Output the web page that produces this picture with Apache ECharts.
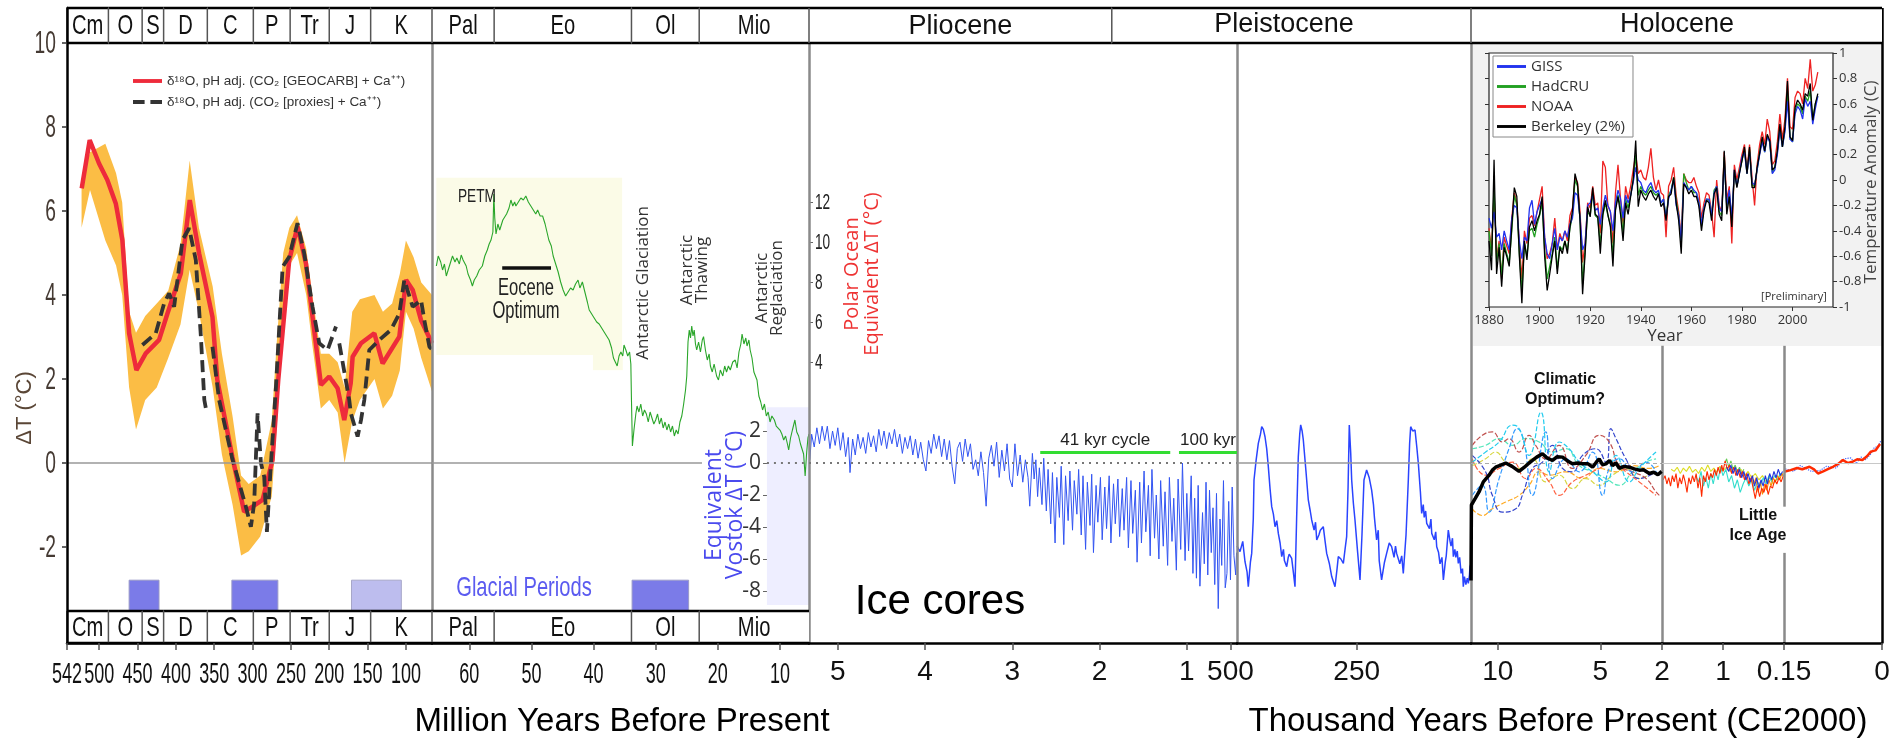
<!DOCTYPE html>
<html>
<head>
<meta charset="utf-8">
<title>Temperature of Planet Earth</title>
<script src="https://cdn.jsdelivr.net/npm/echarts@6/dist/echarts.min.js"></script>
<style>
html, body { margin: 0; padding: 0; background: #fff; }
#chart { width: 1901px; height: 744px; }
</style>
</head>
<body>
<div id="chart"></div>
<script>
// ================= data =================

// Phanerozoic: [million years before present, ΔT °C]
const geocarb = [[522.8,6.54],[512.4,7.69],[500.2,7.13],[489.4,6.74],[478.4,6.18],[469.8,5.31],[461,3.09],[451.5,2.21],[439.3,2.61],[421.9,2.93],[411,3.56],[393.6,4.51],[381.9,6.26],[369.7,4.99],[352.3,3.48],[346,1.98],[326.4,0.15],[311,-1.16],[300.1,-1.04],[287,-0.88],[274,0.07],[266.5,1.98],[252.2,4.83],[241.4,5.63],[230.4,4.75],[221.8,3.48],[210.8,1.86],[200,2.06],[189.1,1.78],[180.4,1.02],[172,1.9],[169.5,2.53],[158.6,2.85],[141.2,3.09],[130.4,2.37],[108.6,3.01],[99.8,4.36],[91.2,4.12],[80.3,3.40],[66,2.85]];
const proxies = [[443.7,2.81],[426.2,3.09],[415.4,3.80],[408.8,4.04],[402.3,3.72],[391.4,5.31],[382.7,5.59],[374,4.83],[367.4,3.01],[362.9,1.5],[360.9,1.3],[357,null],[352.3,2.77],[343.6,1.5],[326.4,0.1],[308.7,-1.04],[302.2,-1.52],[297.9,-0.96],[293.5,1.18],[289.1,0],[284.8,-0.33],[281.3,-1.64],[276,0],[269.5,1.82],[260.8,4.67],[252.2,4.91],[241.4,5.71],[232.6,4.99],[221.8,3.72],[213,2.85],[202.2,2.69],[191.2,3.25],[189,null],[186.9,2.85],[173.9,1.5],[171.8,1.18],[163,0.63],[158.6,1.02],[154.3,1.5],[147.8,2.69],[134.7,2.93],[119.5,3.17],[108.6,3.56],[102.1,4.36],[91.2,3.72],[80.3,3.88],[76,3.40],[69.4,2.77],[66,2.7]];
const spreadUpper = [[523,6.7],[512,7.4],[492,7.6],[478,6.9],[470,6.2],[461,3.6],[452,3.1],[440,3.5],[425,3.8],[410,4.1],[394,5.2],[382,7.2],[370,5.6],[352,4.2],[340,2.6],[326,1.1],[315,-0.3],[305,-0.5],[290,-0.3],[275,1.0],[268,3.0],[260,5.0],[252,5.6],[242,5.9],[230,5.1],[222,4.0],[211,2.6],[200,2.6],[189,2.4],[180,1.8],[170,3.6],[160,3.9],[141,4.0],[130,3.6],[118,3.8],[108,4.5],[100,5.3],[90,4.9],[80,4.3],[66,4.0]];
const spreadLower = [[523,5.6],[512,6.5],[492,5.3],[478,4.7],[470,4.0],[461,1.8],[452,0.8],[440,1.5],[425,1.8],[410,2.5],[394,3.3],[382,4.6],[370,3.6],[352,1.8],[340,0.2],[326,-1.0],[315,-2.2],[305,-2.1],[290,-1.75],[275,-0.8],[268,1.0],[260,3.6],[252,4.7],[242,5.0],[230,4.0],[222,2.8],[211,1.3],[200,1.5],[189,1.2],[180,0.0],[170,1.0],[160,1.5],[141,2.0],[130,1.3],[118,1.6],[108,2.2],[100,3.6],[90,3.2],[80,2.5],[66,1.7]];
const glacialPhanerozoic = [[461,422],[327,267]];
const coolPhanerozoic = [[171,106]];
const glacialCenozoic = [[33.8,24.7]];

// Cenozoic deep-sea record: [Myr, polar ocean equivalent ΔT °C]
const polarOcean = [[65.3,8.8],[65.0,9.3],[64.6,9.0],[64.3,8.6],[64.0,8.9],[63.7,8.3],[63.3,8.7],[63.0,9.0],[62.7,9.3],[62.3,9.0],[62.0,9.2],[61.6,8.9],[61.3,9.35],[61.0,9.1],[60.5,8.8],[60.2,8.4],[59.8,8.1],[59.5,7.8],[59.2,8.1],[58.8,8.3],[58.4,8.6],[57.9,8.8],[57.5,9.3],[57.1,9.6],[56.8,9.9],[56.5,10.1],[56.2,10.5],[56.05,12.4],[55.9,11.2],[55.7,10.4],[55.4,10.9],[55.1,10.6],[54.9,10.8],[54.6,11.1],[54.3,11.0],[54.0,11.4],[53.6,11.7],[53.3,12.1],[53.0,11.8],[52.7,12.0],[52.5,11.8],[52.1,12.0],[51.7,12.2],[51.3,12.1],[50.9,12.3],[50.5,12.0],[50.1,11.8],[49.7,11.6],[49.3,11.4],[49.0,11.6],[48.6,11.3],[48.2,11.3],[47.8,10.9],[47.5,10.5],[47.2,10.1],[46.8,9.8],[46.5,9.3],[46.1,8.9],[45.7,8.5],[45.3,8.0],[44.9,7.6],[44.5,7.3],[44.1,7.5],[43.7,7.7],[43.3,7.6],[42.9,7.9],[42.5,8.1],[42.2,7.7],[41.8,8.0],[41.4,7.5],[41.0,7.0],[40.7,6.6],[40.3,6.4],[39.9,6.2],[39.5,6.0],[39.1,5.9],[38.7,5.7],[38.3,5.5],[37.9,5.3],[37.5,5.1],[37.1,4.7],[36.8,4.2],[36.5,4.0],[36.2,3.8],[35.9,4.3],[35.6,4.5],[35.3,4.3],[35.1,4.85],[34.8,4.6],[34.5,4.3],[34.2,4.5],[34.0,3.9],[33.9,2.1],[33.75,-0.2],[33.5,0.6],[33.2,1.4],[33.0,1.8],[32.7,1.5],[32.4,1.9],[32.1,1.3],[31.8,1.6],[31.5,1.4],[31.2,1.0],[30.9,1.5],[30.6,1.2],[30.3,0.9],[30.0,1.1],[29.7,1.4],[29.4,0.9],[29.1,1.2],[28.8,0.7],[28.5,1.0],[28.2,0.6],[27.9,0.9],[27.6,0.5],[27.3,0.8],[27.0,0.3],[26.7,0.6],[26.4,0.4],[26.1,1.0],[25.8,1.3],[25.5,1.9],[25.2,2.6],[25.0,3.3],[24.8,5.0],[24.6,5.6],[24.4,5.2],[24.2,5.8],[24.0,5.3],[23.8,5.6],[23.6,4.9],[23.4,4.6],[23.1,5.0],[22.8,4.5],[22.5,5.1],[22.3,5.27],[22.0,4.6],[21.7,4.1],[21.4,4.4],[21.2,3.8],[20.9,3.5],[20.6,3.9],[20.2,3.3],[19.9,3.1],[19.6,3.6],[19.2,3.3],[18.9,3.8],[18.6,3.5],[18.3,3.8],[18.0,3.6],[17.6,4.0],[17.2,4.1],[16.9,3.7],[16.6,4.5],[16.3,4.9],[16.1,5.4],[15.8,4.9],[15.5,5.2],[15.3,4.8],[15.0,5.1],[14.8,4.6],[14.5,4.2],[14.2,3.5],[14.0,3.4],[13.7,3.1],[13.4,2.3],[13.1,2.0],[12.8,1.6],[12.5,1.9],[12.2,1.3],[11.9,1.5],[11.6,1.0],[11.3,1.3],[10.9,1.1],[10.6,0.8],[10.3,0.9],[10.0,0.6],[9.7,0.4],[9.4,0.1],[9.1,0.3],[8.8,-0.1],[8.6,-0.4],[8.3,0.2],[8.0,0.6],[7.6,1.1],[7.3,0.5],[7.0,0.3],[6.7,-0.1],[6.5,-0.2],[6.2,-0.6],[5.95,-1.7],[5.7,-0.5],[5.5,0.2],[5.33,0.4]];
const eoceneOptimum = [54.7, 46.85];

// Pliocene–Pleistocene stack: [Myr, equivalent Vostok ΔT °C]
const vostokLong = [[5.32,0.2],[5.30,1.8],[5.27,1.0],[5.24,2.2],[5.21,1.2],[5.18,2.3],[5.15,1.4],[5.12,2.3],[5.09,0.9],[5.06,2.0],[5.03,1.1],[5.00,2.2],[4.97,0.8],[4.94,1.9],[4.91,0.4],[4.88,1.6],[4.86,-0.6],[4.83,1.5],[4.80,0.5],[4.77,1.8],[4.74,0.9],[4.71,1.6],[4.68,0.6],[4.65,1.9],[4.62,1.0],[4.59,1.7],[4.56,0.7],[4.53,2.1],[4.50,1.1],[4.47,2.0],[4.44,0.9],[4.41,1.9],[4.38,1.2],[4.35,2.1],[4.32,1.0],[4.29,1.8],[4.26,0.6],[4.23,1.6],[4.20,0.9],[4.17,1.7],[4.14,0.5],[4.11,1.5],[4.08,0.3],[4.05,1.3],[4.02,0.2],[3.99,-0.5],[3.96,1.4],[3.93,0.6],[3.90,1.8],[3.87,0.9],[3.84,1.7],[3.81,0.4],[3.78,1.5],[3.75,0.2],[3.72,1.4],[3.69,-0.2],[3.66,-1.3],[3.63,0.9],[3.60,1.3],[3.57,0.1],[3.54,1.5],[3.51,0.4],[3.48,1.2],[3.45,-0.4],[3.42,0.2],[3.39,-0.8],[3.36,0.7],[3.33,-0.6],[3.30,-2.7],[3.27,0.3],[3.24,1.1],[3.21,-0.2],[3.18,1.3],[3.15,-0.9],[3.12,0.8],[3.09,-0.5],[3.06,1.2],[3.03,-1.0],[3.00,-1.5],[2.97,1.2],[2.94,-0.8],[2.91,0.5],[2.88,-1.2],[2.85,0.2],[2.82,-0.9],[2.80,-2.7],[2.77,0.6],[2.75,-1.0],[2.73,0.2],[2.71,-2.1],[2.69,-0.3],[2.66,-2.6],[2.64,0.3],[2.61,-3.0],[2.59,-0.4],[2.56,-3.8],[2.54,-0.6],[2.51,-5.0],[2.49,-0.9],[2.46,-3.4],[2.44,-0.2],[2.41,-5.1],[2.39,-0.8],[2.36,-3.6],[2.34,-0.5],[2.31,-4.2],[2.29,-1.1],[2.26,-3.2],[2.24,-0.4],[2.21,-4.5],[2.19,-0.8],[2.16,-5.4],[2.14,-1.2],[2.11,-3.9],[2.09,-0.7],[2.07,-5.6],[2.04,-1.4],[2.02,-3.7],[1.99,-0.9],[1.97,-4.8],[1.94,-1.5],[1.92,-4.1],[1.89,-0.8],[1.87,-5.0],[1.84,-1.3],[1.82,-3.8],[1.79,-1.0],[1.77,-4.6],[1.74,-1.6],[1.72,-4.2],[1.69,-0.9],[1.67,-5.3],[1.64,-1.1],[1.62,-4.4],[1.59,-1.7],[1.57,-6.2],[1.54,-1.2],[1.52,-5.0],[1.49,-0.5],[1.47,-4.3],[1.44,-1.4],[1.42,-5.8],[1.40,-0.4],[1.37,-4.7],[1.35,-2.0],[1.32,-6.0],[1.30,-1.1],[1.27,-5.2],[1.25,-1.8],[1.22,-6.4],[1.20,-0.9],[1.17,-4.9],[1.15,-2.2],[1.12,-6.7],[1.10,-1.0],[1.07,-5.4],[1.05,0.0],[1.02,-6.1],[1.00,-1.9],[0.98,-5.5],[0.95,-0.8],[0.93,-6.9],[0.91,-2.2],[0.89,-7.2],[0.87,-1.4],[0.85,-7.7],[0.82,-3.1],[0.80,-6.3],[0.78,-1.2],[0.76,-7.0],[0.74,-1.7],[0.72,-5.6],[0.70,-2.8],[0.68,-7.6],[0.66,-1.9],[0.64,-9.1],[0.62,-3.5],[0.60,-6.4],[0.58,-1.1],[0.56,-7.8],[0.54,-6.9],[0.52,-2.4],[0.50,-7.3],[0.48,-1.5],[0.46,-5.8],[0.44,-7.0],[0.43,-5.6]];
const cycleEras = [[2.68,1.19,'41 kyr cycle'],[1.09,0.425,'100 kyr']];

// Ice cores: [thousand years before present, Vostok ΔT °C]
const vostokCore = [[500,-5.2],[493.7,-5.54],[488,-4.9],[483.3,-6.17],[479,-6.8],[476.4,-7.73],[472,-6.2],[469.3,-5.65],[466,-3.5],[464.5,-1.06],[460,0.2],[455.5,1.23],[451,1.8],[448.4,2.27],[445,2.1],[441.5,1.64],[438,0.9],[434.6,-0.23],[431,-1.6],[427.5,-2.73],[424,-3.2],[420.6,-3.98],[417,-3.6],[413.7,-4.4],[410,-5.0],[406.6,-5.85],[403,-5.4],[401,-6.1],[396.2,-6.48],[393,-5.9],[391,-5.7],[385.8,-5.96],[382,-6.9],[378.9,-7.73],[375.5,-3.5],[372,0.4],[369,1.8],[367,2.38],[364,2.0],[361.5,1.44],[356,-0.5],[351.1,-2.31],[347,-3.0],[344,-3.56],[339,-4.2],[336,-3.7],[333.5,-4.81],[329,-4.5],[326,-4.2],[319.8,-3.98],[316,-4.9],[312.7,-5.65],[307,-6.3],[302.2,-7.1],[295.3,-7.73],[291,-6.6],[288.4,-5.85],[283,-6.0],[277.9,-6.27],[274,-5.3],[271,-4.6],[268,-1.5],[265.5,2.38],[262.5,0.6],[260.5,-1.06],[257,-2.5],[253.6,-3.56],[248,-5.6],[243.1,-7.31],[239,-4.5],[234.8,-1.06],[229.3,-0.44],[224,-0.9],[218.8,-1.69],[215,-2.6],[213,-3.4],[208.4,-4.81],[205,-4.2],[203,-6.1],[198,-7.31],[192,-6.2],[187.5,-5.65],[182,-5.0],[177.1,-5.23],[172,-5.9],[169,-5.2],[166.6,-5.65],[160,-6.3],[156,-5.8],[152.7,-6.9],[147,-4.5],[142.2,-1.06],[139.5,1.2],[137.3,2.27],[133,2.0],[128.2,2.06],[124.5,1.0],[121.3,-0.02],[117,-1.8],[114.3,-3.15],[111,-2.6],[109,-3.4],[106,-3.0],[103.8,-3.77],[98,-4.1],[95,-3.5],[93.3,-4.4],[88,-4.8],[85,-4.3],[82.9,-5.23],[79,-5.6],[76,-6.3],[72,-5.9],[69,-7.31],[65,-6.2],[63,-5.8],[58.7,-4.19],[55,-4.9],[53,-5.2],[50,-4.7],[48.2,-5.85],[45,-5.4],[43,-5.9],[40,-5.5],[37.8,-6.27],[35,-5.9],[32,-6.9],[29,-6.6],[27.4,-7.73],[25,-7.1],[22,-7.6],[19,-7.2],[16.9,-7.52],[14.5,-7.0],[13.4,-6.48],[11.3,-6.3]];

// Holocene: [thousand years before present, ΔT °C]
const holoceneMean = [[11.3,-2.8],[11.28,-1.0],[11.1,-0.85],[10.91,-0.69],[10.7,-0.45],[10.42,-0.29],[10.26,-0.17],[10.10,-0.1],[9.85,-0.05],[9.61,0.0],[9.3,-0.08],[8.96,-0.2],[8.7,-0.1],[8.47,0.0],[8.31,0.06],[8.1,0.14],[7.82,0.22],[7.6,0.12],[7.33,0.06],[7.1,0.15],[6.84,0.14],[6.6,0.05],[6.36,-0.02],[6.1,0.0],[5.87,-0.02],[5.6,-0.02],[5.38,-0.1],[5.2,0.02],[5.06,0.1],[4.9,-0.04],[4.73,-0.02],[4.55,0.06],[4.41,-0.06],[4.24,0.0],[4.08,-0.13],[3.85,-0.08],[3.59,-0.1],[3.35,-0.14],[3.11,-0.17],[2.9,-0.16],[2.62,-0.25],[2.4,-0.22],[2.2,-0.28],[2.02,-0.2]];
const holoceneProxyA = [[11.24,0.42],[10.75,0.66],[10.26,0.74],[9.77,0.5],[9.45,0.58],[8.96,0.26],[8.47,0.66],[8.15,0.42],[7.66,0.1],[7.01,0.42],[6.36,-0.13],[5.71,0.18],[5.06,0.66],[4.57,0.5],[4.08,-0.06],[3.43,-0.21],[2.78,-0.37],[2.29,-0.69],[2.13,-0.77]];
const holoceneProxyB = [[11.24,0.02],[10.59,0.26],[9.93,0.5],[9.28,0.9],[8.96,0.82],[8.47,0.18],[7.90,1.21],[7.49,-0.21],[7.01,0.5],[6.52,0.34],[6.03,0.02],[5.38,-0.21],[4.73,-0.45],[4.24,0.18],[3.59,-0.45],[3.11,-0.13],[2.29,0.26]];
const holoceneProxyC = [[11.24,-0.77],[10.75,-0.53],[10.42,-1.17],[9.93,-0.37],[9.45,0.34],[9.04,0.82],[8.72,0.5],[8.31,-0.77],[7.66,0.74],[7.33,-0.37],[6.68,0.1],[6.03,-0.21],[5.38,0.26],[4.89,-0.77],[4.57,-0.13],[4.08,0.1],[3.43,-0.21],[2.78,0.02],[2.21,-0.29]];
const holoceneProxyD = [[11.24,0.18],[10.59,-0.21],[10.26,-0.77],[9.77,-1.17],[9.12,-1.09],[8.80,-0.77],[8.31,-0.13],[7.82,0.02],[7.33,0.42],[6.84,-0.13],[6.36,-0.21],[5.87,0.18],[5.22,0.34],[4.73,0.02],[4.49,0.82],[4.24,0.58],[3.76,0.1],[3.11,-0.37],[2.29,-0.21]];
const holoceneProxyE = [[11.24,-1.09],[10.75,-1.25],[10.26,-1.09],[9.61,-0.93],[8.96,-0.77],[8.47,-0.53],[7.98,-0.21],[7.49,-0.29],[6.68,-0.21],[5.87,-0.37],[5.06,-0.13],[4.24,-0.21],[3.43,-0.06],[2.62,-0.13],[2.13,-0.06]];
const holoceneProxyF = [[11.24,-0.06],[10.59,0.1],[10.10,0.26],[9.61,0.02],[8.96,-0.13],[8.31,0.1],[7.66,-0.45],[7.01,-0.29],[6.36,-0.61],[5.71,-0.37],[5.06,-0.53],[4.41,-0.29],[3.76,-0.13],[3.11,-0.37],[2.46,-0.21]];
const holoceneProxyG = [[11.24,0.1],[10.59,-0.29],[9.93,-0.13],[9.28,0.02],[8.63,-0.37],[8.15,-0.13],[7.49,-0.45],[7.01,-0.77],[6.36,-0.45],[5.71,-0.29],[5.06,-0.13],[4.41,0.02],[3.76,-0.21],[3.11,-0.45],[2.29,-0.77]];
const holoceneProxyH = [[11.24,0.34],[10.59,0.42],[9.93,0.58],[9.28,0.42],[8.63,0.58],[7.98,0.5],[7.33,0.26],[6.68,0.34],[6.03,-0.06],[5.38,-0.21],[4.73,-0.37],[4.08,-0.53],[3.43,-0.21],[2.78,0.02],[2.29,0.1]];

// Last two millennia: [thousand years before present, ΔT °C]
const mil2Red = [[1.98,-0.4],[1.95,-0.3],[1.92,-0.5],[1.89,-0.35],[1.86,-0.55],[1.83,-0.3],[1.80,-0.45],[1.77,-0.25],[1.74,-0.6],[1.71,-0.35],[1.68,-0.5],[1.65,-0.28],[1.62,-0.45],[1.59,-0.7],[1.56,-0.35],[1.53,-0.5],[1.50,-0.3],[1.47,-0.45],[1.44,-0.25],[1.41,-0.6],[1.38,-0.35],[1.35,-0.8],[1.32,-0.3],[1.29,-0.45],[1.26,-0.2],[1.23,-0.4],[1.20,-0.25],[1.17,-0.35],[1.14,-0.15],[1.11,-0.3],[1.08,-0.1],[1.05,-0.25],[1.02,-0.05],[1.0,-0.2]];
const mil1Red = [[1.0,-0.2],[0.97,0.05],[0.94,-0.15],[0.91,-0.05],[0.88,-0.25],[0.85,-0.1],[0.82,-0.3],[0.79,-0.15],[0.76,-0.35],[0.73,-0.2],[0.70,-0.4],[0.67,-0.25],[0.64,-0.5],[0.61,-0.35],[0.58,-0.6],[0.55,-0.85],[0.52,-0.55],[0.49,-0.8],[0.46,-0.6],[0.43,-0.7],[0.40,-0.5],[0.37,-0.75],[0.34,-0.55],[0.31,-0.6],[0.28,-0.4],[0.25,-0.5],[0.22,-0.35],[0.19,-0.45],[0.16,-0.3]];
const mil2Yellow = [[1.85,-0.15],[1.80,-0.2],[1.75,-0.1],[1.70,-0.25],[1.65,-0.12],[1.60,-0.2],[1.55,-0.08],[1.50,-0.22],[1.45,-0.15],[1.40,-0.25],[1.35,-0.1],[1.30,-0.2],[1.25,-0.05],[1.20,-0.2],[1.15,-0.12],[1.10,-0.22],[1.05,-0.08],[1.0,-0.18]];
const mil1Yellow = [[1.0,-0.18],[0.95,-0.1],[0.90,-0.2],[0.85,-0.12],[0.80,-0.25],[0.75,-0.15],[0.70,-0.3],[0.65,-0.2],[0.60,-0.35],[0.55,-0.25],[0.50,-0.4],[0.45,-0.3],[0.40,-0.45],[0.35,-0.35],[0.30,-0.5],[0.25,-0.38],[0.20,-0.3],[0.16,-0.25]];
const mil2Cyan = [[1.45,-0.3],[1.40,-0.45],[1.36,-0.2],[1.32,-0.55],[1.28,-0.35],[1.24,-0.6],[1.20,-0.25],[1.16,-0.5],[1.12,-0.2],[1.08,-0.4],[1.04,-0.1],[1.0,-0.3]];
const mil1Cyan = [[1.0,-0.3],[0.96,-0.15],[0.92,-0.45],[0.88,-0.3],[0.84,-0.6],[0.80,-0.4],[0.76,-0.7],[0.72,-0.5],[0.68,-0.35],[0.64,-0.55],[0.60,-0.4],[0.56,-0.65],[0.52,-0.45],[0.48,-0.55],[0.44,-0.35],[0.40,-0.5],[0.36,-0.3],[0.32,-0.45],[0.28,-0.3],[0.24,-0.4],[0.20,-0.25],[0.16,-0.3]];
const mil1Blue = [[0.95,-0.1],[0.92,-0.2],[0.89,-0.05],[0.86,-0.25],[0.83,-0.1],[0.80,-0.3],[0.77,-0.15],[0.74,-0.35],[0.71,-0.2],[0.68,-0.4],[0.65,-0.25],[0.62,-0.45],[0.59,-0.3],[0.56,-0.55],[0.53,-0.35],[0.50,-0.6],[0.47,-0.4],[0.44,-0.55],[0.41,-0.3],[0.38,-0.5],[0.35,-0.25],[0.32,-0.4],[0.29,-0.2],[0.26,-0.35],[0.23,-0.15],[0.20,-0.3],[0.17,-0.2]];
const mil1Orange = [[0.60,-0.3],[0.57,-0.5],[0.54,-0.35],[0.51,-0.7],[0.48,-0.45],[0.45,-0.75],[0.42,-0.5],[0.39,-0.65],[0.36,-0.4],[0.33,-0.55],[0.30,-0.35],[0.27,-0.45],[0.24,-0.3],[0.21,-0.4],[0.18,-0.25],[0.16,-0.3]];
const mil1Green = [[0.98,-0.05],[0.95,0.1],[0.92,-0.1],[0.89,0.05],[0.86,-0.15],[0.83,-0.05],[0.80,-0.2],[0.77,-0.1],[0.74,-0.25],[0.71,-0.15]];
const instrumental = [[0.15,-0.21],[0.14,-0.17],[0.13,-0.12],[0.122,-0.15],[0.111,-0.09],[0.104,-0.15],[0.098,-0.25],[0.09,-0.2],[0.082,-0.14],[0.075,-0.09],[0.067,-0.02],[0.06,0.07],[0.052,0.0],[0.045,0.03],[0.038,0.09],[0.03,0.07],[0.023,0.16],[0.017,0.27],[0.01,0.3],[0.003,0.45]];
const instrumentalScatter = [[0.148,-0.14],[0.135,-0.2],[0.125,-0.06],[0.108,-0.2],[0.095,-0.18],[0.085,-0.08],[0.07,-0.12],[0.058,0.1],[0.048,0.12],[0.04,-0.02],[0.032,0.14],[0.025,0.08],[0.018,0.2],[0.012,0.36],[0.006,0.4],[0.002,0.52]];

// Instrumental era inset: annual anomalies 1880–2010 (°C)
const insetFirstYear = 1880;
const insetGISS = [-0.30,-0.38,-0.25,-0.45,-0.42,-0.55,-0.40,-0.48,-0.55,-0.30,
 -0.20,-0.22,-0.48,-0.62,-0.45,-0.48,-0.22,-0.16,-0.35,-0.25,
 -0.20,-0.15,-0.45,-0.58,-0.62,-0.50,-0.38,-0.55,-0.45,-0.48,
 -0.40,-0.45,-0.35,-0.30,-0.10,-0.12,-0.30,-0.55,-0.50,-0.20,
 -0.18,-0.12,-0.24,-0.22,-0.35,-0.22,-0.12,-0.20,-0.25,-0.40,
 -0.18,-0.08,-0.15,-0.30,-0.12,-0.18,-0.12,-0.02,0.10,0.00,
 -0.02,-0.08,-0.10,-0.05,-0.02,-0.08,-0.10,-0.08,-0.18,-0.15,
 -0.30,-0.15,-0.08,0.00,-0.20,-0.28,-0.48,-0.02,-0.05,-0.08,
 -0.05,-0.08,-0.10,-0.18,-0.35,-0.22,-0.15,-0.15,-0.28,-0.10,
 -0.05,-0.22,-0.25,0.15,-0.20,-0.08,-0.30,0.08,-0.05,0.05,
 0.18,0.22,0.05,0.22,-0.02,-0.04,0.08,0.20,0.30,0.22,
 0.34,0.30,0.05,0.08,0.20,0.40,0.26,0.38,0.62,0.32,
 0.30,0.52,0.58,0.55,0.48,0.64,0.58,0.62,0.44,0.56,
 0.66];
const insetHadCRU = [-0.40,-0.60,-0.05,-0.65,-0.50,-0.75,-0.50,-0.58,-0.65,-0.40,
 -0.12,-0.20,-0.58,-0.88,-0.50,-0.60,-0.40,-0.38,-0.45,-0.35,
 -0.28,-0.18,-0.55,-0.78,-0.68,-0.58,-0.45,-0.70,-0.52,-0.55,
 -0.48,-0.55,-0.38,-0.28,0.00,-0.05,-0.32,-0.82,-0.55,-0.25,
 -0.28,-0.10,-0.28,-0.30,-0.50,-0.28,-0.18,-0.28,-0.35,-0.60,
 -0.22,-0.12,-0.22,-0.42,-0.15,-0.22,-0.12,0.00,0.20,-0.12,
 -0.05,-0.10,-0.12,-0.08,-0.05,-0.10,-0.12,-0.10,-0.18,-0.15,
 -0.30,-0.12,-0.08,0.02,-0.16,-0.28,-0.52,0.05,-0.02,-0.08,
 -0.05,-0.10,-0.10,-0.18,-0.36,-0.22,-0.15,-0.16,-0.28,-0.08,
 -0.05,-0.25,-0.28,0.18,-0.22,-0.10,-0.32,0.06,-0.05,0.06,
 0.15,0.24,0.05,0.24,-0.04,-0.05,0.08,0.22,0.32,0.22,
 0.35,0.30,0.06,0.10,0.22,0.42,0.26,0.40,0.70,0.34,
 0.30,0.55,0.60,0.58,0.52,0.66,0.62,0.70,0.48,0.60,
 0.66];
const insetNOAA = [-0.38,-0.55,-0.10,-0.62,-0.48,-0.78,-0.45,-0.52,-0.58,-0.30,
 -0.10,-0.18,-0.50,-0.78,-0.40,-0.50,-0.30,-0.28,-0.36,-0.25,
 -0.15,-0.05,-0.45,-0.62,-0.58,-0.50,-0.30,-0.55,-0.42,-0.48,
 -0.40,-0.48,-0.28,-0.22,0.02,-0.02,-0.25,-0.65,-0.50,-0.18,
 -0.22,-0.05,-0.20,-0.18,-0.42,0.15,0.10,-0.20,-0.25,-0.50,
 -0.10,0.12,-0.15,-0.35,-0.05,-0.15,-0.05,0.08,0.20,0.05,
 0.08,0.02,0.00,0.10,0.25,0.02,-0.08,0.00,-0.10,-0.12,
 -0.45,-0.05,0.00,0.10,-0.12,-0.25,-0.45,0.05,0.00,-0.02,
 -0.02,0.02,-0.05,-0.10,-0.30,-0.18,-0.10,-0.12,-0.25,-0.45,
 0.00,-0.20,-0.25,0.22,-0.15,-0.05,-0.50,0.12,0.00,0.10,
 0.20,0.28,0.08,0.28,0.02,-0.20,0.12,0.28,0.38,0.28,
 0.48,0.38,0.12,0.15,0.30,0.52,0.32,0.48,0.80,0.42,
 0.40,0.65,0.70,0.68,0.60,0.80,0.72,0.95,0.70,0.75,
 0.85];
const insetBerkeley = [-0.48,-0.71,0.16,-0.74,-0.53,-0.84,-0.53,-0.60,-0.68,-0.37,
 -0.06,-0.13,-0.60,-0.97,-0.48,-0.63,-0.37,-0.32,-0.40,-0.32,
 -0.27,-0.13,-0.60,-0.87,-0.74,-0.60,-0.48,-0.74,-0.53,-0.58,
 -0.48,-0.58,-0.37,-0.24,0.05,-0.03,-0.32,-0.90,-0.58,-0.21,
 -0.29,-0.06,-0.27,-0.29,-0.58,-0.27,-0.16,-0.27,-0.37,-0.68,
 -0.24,-0.13,-0.27,-0.48,-0.18,-0.27,-0.13,0.00,0.31,-0.21,
 -0.08,-0.13,-0.16,-0.11,-0.08,-0.13,-0.16,-0.11,-0.21,-0.18,
 -0.32,-0.13,-0.11,0.02,-0.18,-0.32,-0.58,-0.03,-0.06,-0.11,
 -0.08,-0.13,-0.13,-0.21,-0.40,-0.24,-0.16,-0.18,-0.32,-0.11,
 -0.06,-0.27,-0.32,0.23,-0.27,-0.13,-0.37,0.08,-0.06,0.05,
 0.15,0.26,0.05,0.26,-0.06,-0.06,0.10,0.21,0.34,0.23,
 0.36,0.31,0.08,0.10,0.23,0.44,0.26,0.42,0.78,0.34,
 0.31,0.57,0.63,0.60,0.55,0.68,0.66,0.76,0.47,0.60,
 0.68];

// Geologic time divisions: [start, end, label]
const periods = [[542,488,'Cm'],[488,444,'O'],[444,416,'S'],[416,359,'D'],[359,299,'C'],[299,251,'P'],[251,200,'Tr'],[200,146,'J'],[146,66,'K']];
const epochs = [[66,56,'Pal'],[56,33.9,'Eo'],[33.9,23,'Ol'],[23,5.33,'Mio']];
const lateEpochs = [[5.33,1.86,'Pliocene'],[1.86,0.425,'']];

// Tick labels per panel
const ticksPhanerozoic = [542,500,450,400,350,300,250,200,150,100];
const ticksCenozoic = [60,50,40,30,20,10];
const ticksPlioPleist = [5,4,3,2,1,0.5];
const ticksIceCore = [250];
const ticksHolocene = [10,5,2];
const ticksMil2 = [1];
const ticksMil1 = [0.15];
const ticksRecent = [0];
const ticksMainT = [10,8,6,4,2,0,-2];
const ticksPolar = [4,6,8,10,12];
const ticksVostok = [2,0,-2,-4,-6,-8];
const ticksInsetT = [-1,-0.8,-0.6,-0.4,-0.2,0,0.2,0.4,0.6,0.8,1];
const ticksInsetYear = [1880,1900,1920,1940,1960,1980,2000];

// ================= layout =================
const SANS = '"Liberation Sans",Arial,Helvetica,sans-serif';
const OPEN = '"Open Sans","Noto Sans",sans-serif';
const SQUEEZE = 0.62;   // horizontal squeeze for the condensed lettering of the deep-time panels

const PLOT_TOP = 8, PLOT_BOTTOM = 643;
const MAIN_RANGE = [-4.2857, 10.8333];   // 42 px per °C
const POLAR_RANGE = [-10.05, 21.7];      // 20 px per °C
const VOSTOK_RANGE = [-11.25, 28.4375];  // 16 px per °C
const TOP_BAND = [10.8333, 10];
const BOTTOM_BAND = [-3.5238, -4.2857];
const GLACIAL_BAR = [-2.79, -3.5238];

const panels = [
  { left: 67,   right: 432,  min: 66,    max: 542,  ticks: ticksPhanerozoic, squeeze: true },
  { left: 432,  right: 809,  min: 5.33,  max: 66,   ticks: ticksCenozoic,    squeeze: true },
  { left: 809,  right: 1237, min: 0.425, max: 5.33, ticks: ticksPlioPleist,  fmt: v => (v === 0.5 ? '500' : String(v)) },
  { left: 1237, right: 1471, min: 11.3,  max: 500,  ticks: ticksIceCore },
  { left: 1471, right: 1662, min: 2,     max: 11.3, ticks: ticksHolocene },
  { left: 1662, right: 1723, min: 1,     max: 2,    ticks: ticksMil2 },
  { left: 1723, right: 1784, min: 0.15,  max: 1,    ticks: ticksMil1 },
  { left: 1784, right: 1882, min: 0,     max: 0.15, ticks: ticksRecent }
];

const grids = panels.map(p => ({
  left: p.left, top: PLOT_TOP, width: p.right - p.left, height: PLOT_BOTTOM - PLOT_TOP,
  containLabel: false, outerBoundsMode: 'none'
}));
grids.push({ left: 1473, top: 43, width: 409, height: 303, show: true, backgroundColor: '#f2f2f2', borderWidth: 0, outerBoundsMode: 'none' }); // 8: inset backdrop
grids.push({ left: 1489, top: 53, width: 344, height: 254, show: true, backgroundColor: '#fff', borderColor: '#222', borderWidth: 1.2, outerBoundsMode: 'none' }); // 9: inset plot

const xAxes = panels.map((p, i) => ({
  type: 'value', gridIndex: i, min: p.min, max: p.max, inverse: true, z: 10,
  axisLine: { show: true, onZero: false, lineStyle: { color: '#000', width: 2.5 } },
  axisTick: { show: true, customValues: p.ticks, length: 7, lineStyle: { color: '#555', width: 1.5 } },
  axisLabel: { show: !p.squeeze, customValues: p.ticks, formatter: p.fmt || (v => String(v)), margin: 15,
    fontSize: 28, fontFamily: SANS, color: '#111', hideOverlap: false },
  splitLine: { show: false }
}));
xAxes.push({
  type: 'value', gridIndex: 9, min: 1880, max: 2016,
  axisLine: { show: false, onZero: false },
  axisTick: { show: true, customValues: ticksInsetYear, length: 4, lineStyle: { color: '#333' } },
  axisLabel: { show: true, customValues: ticksInsetYear, fontSize: 13, fontFamily: OPEN, color: '#333', margin: 7, formatter: v => String(v) },
  splitLine: { show: false }
});

const yAxes = panels.map((p, i) => ({
  type: 'value', gridIndex: i, min: MAIN_RANGE[0], max: MAIN_RANGE[1], show: i === 0, z: 10,
  axisLine: { show: true, onZero: false, lineStyle: { color: '#000', width: 2.5 } },
  axisTick: { show: true, customValues: ticksMainT, length: 5, lineStyle: { color: '#333', width: 1.5 } },
  axisLabel: { show: false },
  splitLine: { show: false }
}));
// 8: polar ocean scale (Cenozoic panel, drawn on its right edge)
yAxes.push({
  type: 'value', gridIndex: 1, position: 'right', min: POLAR_RANGE[0], max: POLAR_RANGE[1],
  axisLine: { show: false },
  axisTick: { show: true, customValues: ticksPolar, length: 4, lineStyle: { color: '#666', width: 1 } },
  axisLabel: { show: false },
  splitLine: { show: false }
});
// 9: Vostok scale labels (inside the Cenozoic panel)
yAxes.push({
  type: 'value', gridIndex: 1, position: 'right', offset: -42, min: VOSTOK_RANGE[0], max: VOSTOK_RANGE[1],
  axisLine: { show: false },
  axisTick: { show: true, inside: true, customValues: ticksVostok, length: 4, lineStyle: { color: '#666', width: 1 } },
  axisLabel: { show: true, inside: true, customValues: ticksVostok, fontSize: 21, fontFamily: OPEN, color: '#333', margin: 6 },
  splitLine: { show: false }
});
// 10, 11: Vostok scale for the ice-core panels
yAxes.push({ type: 'value', gridIndex: 2, min: VOSTOK_RANGE[0], max: VOSTOK_RANGE[1], show: false, splitLine: { show: false } });
yAxes.push({ type: 'value', gridIndex: 3, min: VOSTOK_RANGE[0], max: VOSTOK_RANGE[1], show: false, splitLine: { show: false } });
// 12, 13: inset anomaly scale
yAxes.push({
  type: 'value', gridIndex: 9, position: 'left', min: -1, max: 1,
  axisLine: { show: false }, axisLabel: { show: false },
  axisTick: { show: true, customValues: ticksInsetT, length: 4, lineStyle: { color: '#333' } },
  splitLine: { show: false }
});
yAxes.push({
  type: 'value', gridIndex: 9, position: 'right', min: -1, max: 1,
  axisLine: { show: false },
  axisTick: { show: true, customValues: ticksInsetT, length: 4, lineStyle: { color: '#333' } },
  axisLabel: { show: true, customValues: ticksInsetT, fontSize: 13, fontFamily: OPEN, color: '#333', margin: 6 },
  splitLine: { show: false }
});

// ---------- helpers ----------
const seg = (x1, y1, x2, y2, lineStyle, label) => {
  const a = { coord: [x1, y1], lineStyle };
  if (label) a.label = label;
  return [a, { coord: [x2, y2], lineStyle }];
};
const box = (x1, y1, x2, y2, itemStyle) => [{ coord: [x1, y1], itemStyle }, { coord: [x2, y2] }];
const marks = data => ({ silent: true, symbol: ['none', 'none'], animation: false, label: { show: false }, data });
const decor = (gi, yi, extra) => Object.assign({ type: 'line', xAxisIndex: gi, yAxisIndex: yi, data: [], symbol: 'none', silent: true, clip: false, animation: false }, extra);

const zeroGray = { color: '#999', width: 1.5, type: 'solid' };
const zeroDots = { color: '#777', width: 2, type: [2, 5] };
const zeroLight = { color: '#c8c8c8', width: 1, type: 'solid' };
const divider = { color: '#8a8a8a', width: 2.5, type: 'solid' };
const frame = { color: '#000', width: 2.5, type: 'solid' };

// condensed tick labels placed through an axis scale (dx/dy: offset from the tick point)
function tickLabelSeries(values, xi, yi, onX, fixed, font, fill, dx, dy, align, fmt) {
  return {
    type: 'custom', xAxisIndex: xi, yAxisIndex: yi, silent: true, clip: false, z: 12,
    data: values.map(v => (onX ? [v, fixed] : [fixed, v])),
    renderItem: (params, api) => {
      const v = values[params.dataIndex];
      const p = api.coord(onX ? [v, fixed] : [fixed, v]);
      return { type: 'text', x: p[0] + dx, y: p[1] + dy, scaleX: SQUEEZE,
        style: { text: fmt ? fmt(v) : String(v), font, fill, align, verticalAlign: 'middle' } };
    }
  };
}

function cellSeries(cells, gi, band, font, edges, squeeze) {
  return {
    type: 'custom', xAxisIndex: gi, yAxisIndex: gi, silent: true, z: 6, clip: false,
    data: cells.map(c => [c[0], c[1]]),
    renderItem: (params, api) => {
      const c = cells[params.dataIndex];
      const a = api.coord([c[0], band[0]]);
      const b = api.coord([c[1], band[1]]);
      const children = [
        { type: 'rect', shape: { x: a[0], y: a[1], width: b[0] - a[0], height: b[1] - a[1] }, style: { fill: '#fff' } },
        { type: 'line', shape: { x1: a[0], y1: a[1], x2: b[0], y2: a[1] }, style: { stroke: '#000', lineWidth: 2.5 } },
        { type: 'line', shape: { x1: a[0], y1: b[1], x2: b[0], y2: b[1] }, style: { stroke: '#000', lineWidth: 2.5 } }
      ];
      if (edges) children.push({ type: 'line', shape: { x1: a[0], y1: a[1], x2: a[0], y2: b[1] }, style: { stroke: '#555', lineWidth: 1.5 } });
      if (c[2]) children.push({ type: 'text', x: (a[0] + b[0]) / 2, y: (a[1] + b[1]) / 2 + 1, scaleX: squeeze ? 0.72 : 1,
        style: { text: c[2], font, fill: '#111', align: 'center', verticalAlign: 'middle' } });
      return { type: 'group', children };
    }
  };
}

const NAME_GEO = 'δ¹⁸O, pH adj. (CO₂ [GEOCARB] + Ca⁺⁺)';
const NAME_PROXY = 'δ¹⁸O, pH adj. (CO₂ [proxies] + Ca⁺⁺)';

const series = [];

// ---------- Phanerozoic panel ----------
series.push({
  type: 'custom', xAxisIndex: 0, yAxisIndex: 0, silent: true, z: 2, clip: true,
  data: [[300, 0]],
  renderItem: (params, api) => {
    const pts = spreadUpper.map(p => api.coord(p)).concat(spreadLower.slice().reverse().map(p => api.coord(p)));
    return { type: 'polygon', shape: { points: pts }, style: { fill: '#fbbd45' } };
  }
});
series.push({ name: NAME_GEO, type: 'line', xAxisIndex: 0, yAxisIndex: 0, data: geocarb, symbol: 'none', z: 3,
  lineStyle: { color: '#ee2b3b', width: 4.5 }, itemStyle: { color: '#ee2b3b' } });
series.push({ name: NAME_PROXY, type: 'line', xAxisIndex: 0, yAxisIndex: 0, data: proxies, symbol: 'none', z: 4, connectNulls: false,
  lineStyle: { color: '#333', width: 3.8, type: [12, 6] }, itemStyle: { color: '#333' } });
series.push(decor(0, 0, {
  markArea: { silent: true, data:
    glacialPhanerozoic.map(g => box(g[0], GLACIAL_BAR[0], g[1], GLACIAL_BAR[1], { color: '#7b7be8', borderColor: '#9a9ac8', borderWidth: 1 }))
    .concat(coolPhanerozoic.map(g => box(g[0], GLACIAL_BAR[0], g[1], GLACIAL_BAR[1], { color: '#bdbdee', borderColor: '#a6a6c8', borderWidth: 1 }))) },
  markLine: marks([
    seg(542, 0, 66, 0, zeroGray),
    seg(66, TOP_BAND[1], 66, BOTTOM_BAND[0], divider)
  ])
}));
// axis numbers in condensed lettering
series.push(tickLabelSeries(ticksPhanerozoic, 0, 0, true, MAIN_RANGE[0], '29px ' + SANS, '#111', 0, 32, 'center'));
series.push(tickLabelSeries(ticksCenozoic, 1, 1, true, MAIN_RANGE[0], '29px ' + SANS, '#111', 0, 32, 'center'));
series.push(tickLabelSeries(ticksMainT, 0, 0, false, 542, '31px ' + SANS, '#453a33', -11, 1, 'right'));
series.push(tickLabelSeries(ticksPolar, 1, 8, false, 5.33, '22px ' + SANS, '#222', 6, 1, 'left'));

// ---------- Cenozoic panel ----------
series.push(decor(1, 1, {
  z: 1,
  markArea: { silent: true, data: [
    box(65.3, 6.79, 35.4, 2.57, { color: '#fbfbe7' }),
    box(40.1, 2.57, 35.3, 2.21, { color: '#fbfbe7' }),
    box(12.1, 1.33, 5.33, -3.38, { color: '#eeeeff' })
  ].concat(glacialCenozoic.map(g => box(g[0], GLACIAL_BAR[0], g[1], GLACIAL_BAR[1], { color: '#7b7be8', borderColor: '#9a9ac8', borderWidth: 1 }))) },
  markLine: marks([
    seg(66, 0, 22.55, 0, zeroGray),
    seg(12.1, 0, 5.33, 0, zeroDots),
    seg(eoceneOptimum[0], 4.64, eoceneOptimum[1], 4.64, { color: '#111', width: 3.5, type: 'solid' }),
    seg(5.33, TOP_BAND[1], 5.33, MAIN_RANGE[0], divider)
  ])
}));
series.push({ type: 'line', xAxisIndex: 1, yAxisIndex: 8, data: polarOcean, symbol: 'none', z: 3,
  lineStyle: { color: '#2aa62a', width: 1.1 } });

// ---------- Pliocene–Pleistocene panel ----------
series.push(decor(2, 2, {
  markLine: marks([
    seg(5.33, 0, 0.425, 0, zeroDots),
    seg(0.425, TOP_BAND[1], 0.425, MAIN_RANGE[0], divider)
  ].concat(cycleEras.map(c => seg(c[0], 0.26, c[1], 0.26, { color: '#33dd33', width: 3, type: 'solid' },
    { show: true, position: 'middle', formatter: c[2], fontSize: 17, fontFamily: SANS, color: '#222', distance: 3 }))))
}));
series.push({ type: 'line', xAxisIndex: 2, yAxisIndex: 10, data: vostokLong, symbol: 'none', z: 3,
  lineStyle: { color: '#3355f2', width: 1 } });

// ---------- ice-core panel ----------
series.push(decor(3, 3, {
  markLine: marks([
    seg(500, 0, 11.3, 0, zeroGray),
    seg(11.3, TOP_BAND[0], 11.3, MAIN_RANGE[0], divider)
  ])
}));
series.push({ type: 'line', xAxisIndex: 3, yAxisIndex: 11, data: vostokCore, symbol: 'none', z: 3,
  lineStyle: { color: '#2a44ff', width: 1.5 } });

// ---------- Holocene panels ----------
series.push(decor(4, 4, { markLine: marks([
  seg(11.3, 0, 2, 0, { color: '#aaa', width: 1, type: [4, 3] }),
  seg(2, 2.79, 2, MAIN_RANGE[0], divider)
]) }));
const holoProxies = [
  [holoceneProxyE, '#ffaa22'], [holoceneProxyF, '#d6d640'], [holoceneProxyH, '#55e6bb'], [holoceneProxyG, '#ff6040'],
  [holoceneProxyD, '#3344cc'], [holoceneProxyA, '#c0504d'], [holoceneProxyC, '#3399ff'], [holoceneProxyB, '#22ccee']
];
holoProxies.forEach(([d, c]) => series.push({ type: 'line', xAxisIndex: 4, yAxisIndex: 4, data: d, symbol: 'none', smooth: 0.5, z: 3,
  lineStyle: { color: c, width: 1.2, type: [5, 2] } }));
series.push({ type: 'line', xAxisIndex: 4, yAxisIndex: 4, data: holoceneMean, symbol: 'none', z: 5, lineStyle: { color: '#000', width: 3.5 } });

series.push(decor(5, 5, { markLine: marks([ seg(2, 0, 1, 0, zeroLight) ]) }));
[[mil2Yellow, '#dddd22'], [mil2Cyan, '#33ddcc'], [mil2Red, '#ff2a00']].forEach(([d, c]) =>
  series.push({ type: 'line', xAxisIndex: 5, yAxisIndex: 5, data: d, symbol: 'none', z: 3, lineStyle: { color: c, width: 1.1 } }));

series.push(decor(6, 6, { markLine: marks([
  seg(1, 0, 0.15, 0, zeroLight),
  seg(0.15, 2.79, 0.15, -1.04, divider),
  seg(0.15, -2.14, 0.15, MAIN_RANGE[0], divider)
]) }));
[[mil1Green, '#66cc55'], [mil1Yellow, '#dddd22'], [mil1Cyan, '#33ddcc'], [mil1Orange, '#ff8800'], [mil1Red, '#ff2a00'], [mil1Blue, '#2233dd']].forEach(([d, c]) =>
  series.push({ type: 'line', xAxisIndex: 6, yAxisIndex: 6, data: d, symbol: 'none', z: 3, lineStyle: { color: c, width: 1.1 } }));

series.push(decor(7, 7, { markLine: marks([
  seg(0.15, 0, 0, 0, zeroLight),
  seg(0, TOP_BAND[0], 0, MAIN_RANGE[0], frame)
]) }));
series.push({ type: 'line', xAxisIndex: 7, yAxisIndex: 7, data: instrumentalScatter, symbol: 'none', z: 3, lineStyle: { color: '#4466ff', width: 1.2, type: 'dotted' } });
series.push({ type: 'line', xAxisIndex: 7, yAxisIndex: 7, data: instrumental, symbol: 'none', z: 4, lineStyle: { color: '#ff2a00', width: 2.5 } });

// ---------- geologic time bands ----------
series.push(cellSeries(periods, 0, TOP_BAND, '28px ' + SANS, true, true));
series.push(cellSeries(periods, 0, BOTTOM_BAND, '28px ' + SANS, true, true));
series.push(cellSeries(epochs, 1, TOP_BAND, '28px ' + SANS, true, true));
series.push(cellSeries(epochs, 1, BOTTOM_BAND, '28px ' + SANS, true, true));
series.push(cellSeries(lateEpochs, 2, TOP_BAND, '27px ' + SANS, true, false));
series.push(cellSeries([[500, 11.3, '']], 3, TOP_BAND, '', false, false));
series.push(cellSeries([[11.3, 2, '']], 4, TOP_BAND, '', true, false));
series.push(cellSeries([[2, 1, '']], 5, TOP_BAND, '', false, false));
series.push(cellSeries([[1, 0.15, '']], 6, TOP_BAND, '', false, false));
series.push(cellSeries([[0.15, 0, '']], 7, TOP_BAND, '', false, false));

// ---------- instrumental inset ----------
const yearsOf = arr => arr.map((v, i) => [insetFirstYear + i, v]);
[['NOAA', insetNOAA, '#ee2222'], ['HadCRU', insetHadCRU, '#22a022'], ['GISS', insetGISS, '#2233ee'], ['Berkeley (2%)', insetBerkeley, '#000']].forEach(([n, d, c]) =>
  series.push({ name: n, type: 'line', xAxisIndex: 8, yAxisIndex: 13, data: yearsOf(d), symbol: 'none', z: 3,
    lineStyle: { color: c, width: 1.3 }, itemStyle: { color: c } }));

// ---------- free text ----------
const txt = (text, x, y, font, fill, extra) => Object.assign({
  type: 'text', x, y, silent: true, z: 50,
  style: { text, font, fill: fill || '#111', align: 'center', verticalAlign: 'middle', textAlign: 'center', textVerticalAlign: 'middle' }
}, extra || {});
const multi = (text, font, fill, lineHeight) => ({ text, font, fill, lineHeight, align: 'center', verticalAlign: 'middle', textAlign: 'center', textVerticalAlign: 'middle' });
const up = Math.PI / 2;
const texts = [
  txt('ΔT (°C)', 25, 408, '22px ' + SANS, '#5a4636', { rotation: up }),
  txt('Million Years Before Present', 622, 722, '33px ' + SANS, '#000'),
  txt('Thousand Years Before Present (CE2000)', 1558, 722, '33px ' + SANS, '#000'),
  txt('Pleistocene', 1284, 25, '27px ' + SANS, '#111'),
  txt('Holocene', 1677, 25, '27px ' + SANS, '#111'),
  txt('Glacial Periods', 524, 588, '28px ' + SANS, '#5b5bf0', { scaleX: 0.72 }),
  txt('PETM', 477, 197, '19px ' + SANS, '#222', { scaleX: 0.72 }),
  txt('', 526, 300, '', '', { scaleX: 0.72, style: multi('Eocene\nOptimum', '23px ' + SANS, '#222', 23) }),
  txt('Antarctic Glaciation', 643, 283, '17px ' + OPEN, '#333', { rotation: up }),
  txt('', 695, 270, '', '', { rotation: up, style: multi('Antarctic\nThawing', '17px ' + OPEN, '#333', 15) }),
  txt('', 770, 288, '', '', { rotation: up, style: multi('Antarctic\nReglaciation', '17px ' + OPEN, '#333', 15) }),
  txt('', 862, 274, '', '', { rotation: up, style: multi('Polar Ocean\nEquivalent ΔT (°C)', '20px ' + OPEN, '#ee3333', 20) }),
  txt('', 725, 505, '', '', { rotation: up, style: multi('Equivalent\nVostok ΔT (°C)', '23px ' + OPEN, '#4a4aee', 21) }),
  txt('Ice cores', 940, 602, '42px ' + SANS, '#000'),
  txt('', 1565, 390, '', '', { style: multi('Climatic\nOptimum?', 'bold 16px ' + SANS, '#111', 20) }),
  txt('', 1758, 526, '', '', { style: multi('Little\nIce Age', 'bold 16px ' + SANS, '#111', 20) }),
  txt('Year', 1665, 336, '17px ' + OPEN, '#333'),
  txt('Temperature Anomaly (C)', 1871, 182, '17px ' + OPEN, '#444', { rotation: up }),
  txt('[Preliminary]', 1794, 297, '11px ' + OPEN, '#333')
];

const SOLID_ICON = 'path://M0 0H30V4H0Z';
const DASH_ICON = 'path://M0 0H12V4H0Z M18 0H30V4H18Z';

const option = {
  animation: false,
  backgroundColor: '#fff',
  grid: grids,
  xAxis: xAxes,
  yAxis: yAxes,
  legend: [
    { data: [{ name: NAME_GEO, icon: SOLID_ICON }, { name: NAME_PROXY, icon: DASH_ICON }],
      left: 128, top: 69, orient: 'vertical', itemWidth: 29, itemHeight: 4, itemGap: 7,
      selectedMode: false, textStyle: { fontSize: 13.5, color: '#333', fontFamily: SANS } },
    { data: ['GISS', 'HadCRU', 'NOAA', 'Berkeley (2%)'].map(n => ({ name: n, icon: 'path://M0 0H30V3H0Z' })),
      left: 1493, top: 56, orient: 'vertical', itemWidth: 29, itemHeight: 3, itemGap: 5,
      selectedMode: false, backgroundColor: '#fff', borderColor: '#888', borderWidth: 1, padding: [3, 8, 3, 4],
      textStyle: { fontSize: 15, color: '#333', fontFamily: OPEN } }
  ],
  graphic: { elements: texts },
  series
};

const chart = echarts.init(document.getElementById('chart'));
chart.setOption(option);
</script>
</body>
</html>
